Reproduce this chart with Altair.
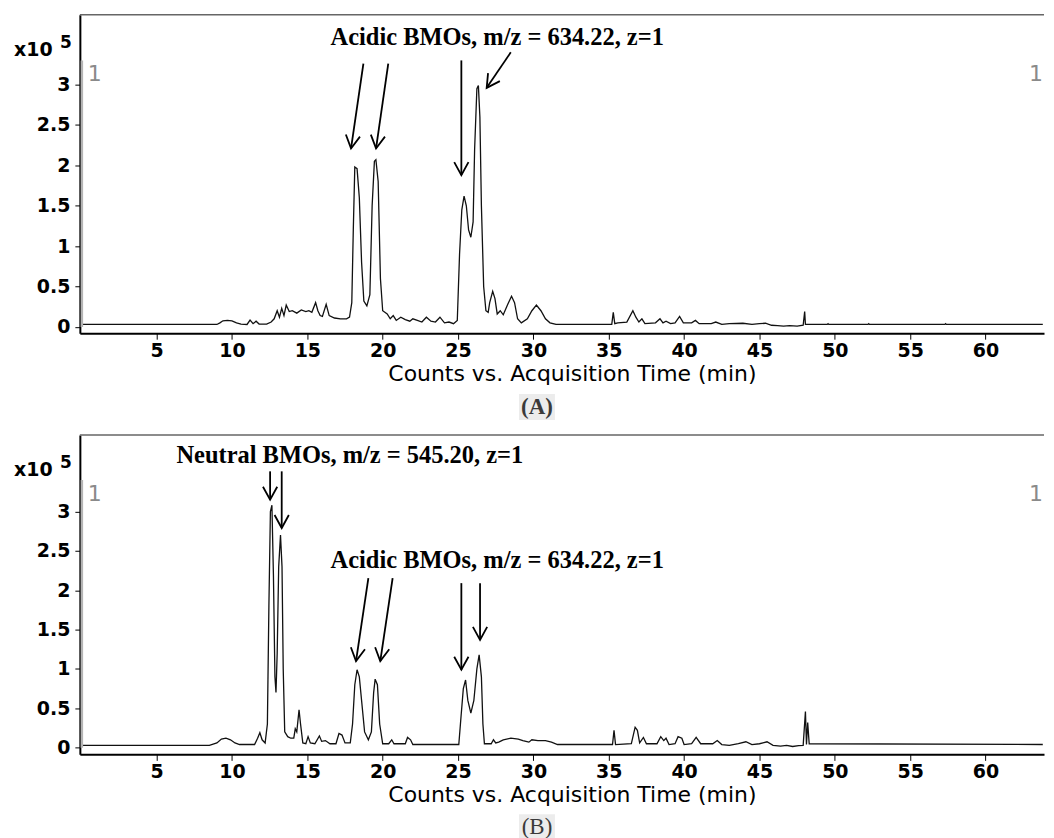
import math
import altair as alt
import pandas as pd

# ---------------- data (counts in units of 10^5) ----------------
trace_a = [
    (0.1, 0.03), (9.0, 0.03), (9.2, 0.05), (9.4, 0.075), (9.7, 0.08), (10.0, 0.075),
    (10.3, 0.05), (10.6, 0.035), (11.0, 0.03), (11.2, 0.085), (11.4, 0.04), (11.6, 0.07),
    (11.8, 0.035), (12.3, 0.035), (12.6, 0.06), (12.8, 0.1), (13.0, 0.2), (13.15, 0.12),
    (13.3, 0.23), (13.45, 0.14), (13.6, 0.27), (13.8, 0.19), (14.0, 0.2), (14.3, 0.17),
    (14.6, 0.21), (14.9, 0.19), (15.1, 0.2), (15.3, 0.18), (15.55, 0.3), (15.7, 0.2),
    (15.85, 0.14), (16.0, 0.13), (16.25, 0.28), (16.45, 0.14), (16.8, 0.11), (17.2, 0.1),
    (17.6, 0.1), (17.8, 0.12), (17.95, 0.3), (18.05, 1.2), (18.15, 1.98), (18.3, 1.96),
    (18.45, 1.6), (18.6, 0.8), (18.75, 0.32), (18.95, 0.26), (19.15, 0.4), (19.3, 1.5),
    (19.45, 2.05), (19.55, 2.07), (19.7, 1.8), (19.85, 0.6), (20.0, 0.2), (20.3, 0.16),
    (20.5, 0.1), (20.7, 0.14), (20.9, 0.08), (21.2, 0.12), (21.5, 0.09), (21.8, 0.07),
    (22.0, 0.1), (22.3, 0.08), (22.6, 0.06), (22.9, 0.12), (23.2, 0.07), (23.5, 0.06),
    (23.8, 0.12), (24.1, 0.05), (24.4, 0.06), (24.7, 0.04), (24.95, 0.08), (25.1, 0.9),
    (25.25, 1.45), (25.4, 1.62), (25.55, 1.5), (25.7, 1.2), (25.85, 1.11), (26.0, 1.3),
    (26.1, 2.2), (26.25, 2.95), (26.35, 2.99), (26.45, 2.6), (26.55, 1.5), (26.7, 0.5),
    (26.85, 0.2), (27.0, 0.18), (27.1, 0.3), (27.3, 0.44), (27.45, 0.35), (27.6, 0.16),
    (27.8, 0.2), (28.0, 0.15), (28.3, 0.28), (28.55, 0.38), (28.75, 0.3), (28.95, 0.1),
    (29.2, 0.05), (29.6, 0.1), (29.9, 0.2), (30.2, 0.27), (30.5, 0.2), (30.8, 0.1),
    (31.1, 0.05), (31.5, 0.03), (35.2, 0.03), (35.3, 0.18), (35.4, 0.04), (35.6, 0.05),
    (36.2, 0.06), (36.6, 0.2), (36.8, 0.12), (37.0, 0.06), (37.2, 0.1), (37.4, 0.04),
    (38.1, 0.05), (38.4, 0.1), (38.6, 0.05), (38.8, 0.07), (39.1, 0.04), (39.4, 0.05),
    (39.7, 0.13), (39.95, 0.05), (40.5, 0.05), (40.75, 0.08), (41.0, 0.04), (41.8, 0.04),
    (42.1, 0.06), (42.5, 0.03), (43.0, 0.04), (43.9, 0.045), (44.5, 0.03), (45.0, 0.04),
    (45.4, 0.045), (45.8, 0.02), (46.2, 0.015), (46.6, 0.01), (47.0, 0.015), (47.5, 0.01),
    (47.9, 0.02), (48.0, 0.19), (48.05, 0.03), (49.5, 0.03), (49.55, 0.04), (49.6, 0.03),
    (52.2, 0.03), (52.25, 0.04), (52.3, 0.03), (57.3, 0.03), (57.35, 0.04), (57.4, 0.03),
    (63.8, 0.03),
]

trace_b = [
    (0.1, 0.03), (8.5, 0.03), (9.0, 0.06), (9.3, 0.11), (9.6, 0.12), (9.9, 0.1),
    (10.2, 0.06), (10.5, 0.04), (11.5, 0.04), (11.7, 0.12), (11.85, 0.19), (12.0, 0.1),
    (12.2, 0.06), (12.35, 0.3), (12.45, 1.8), (12.55, 3.0), (12.65, 3.08), (12.75, 2.2),
    (12.85, 0.9), (12.92, 0.7), (13.0, 1.2), (13.1, 2.3), (13.22, 2.7), (13.32, 2.3),
    (13.4, 1.0), (13.5, 0.2), (13.7, 0.14), (13.9, 0.12), (14.1, 0.12), (14.2, 0.24),
    (14.3, 0.2), (14.45, 0.48), (14.55, 0.3), (14.7, 0.06), (14.9, 0.05), (15.05, 0.14),
    (15.2, 0.06), (15.5, 0.05), (15.8, 0.15), (15.95, 0.08), (16.2, 0.09), (16.5, 0.05),
    (16.9, 0.05), (17.1, 0.18), (17.3, 0.16), (17.5, 0.06), (17.85, 0.06), (18.0, 0.3),
    (18.15, 0.8), (18.3, 0.99), (18.45, 0.9), (18.6, 0.6), (18.8, 0.2), (19.05, 0.1),
    (19.25, 0.2), (19.4, 0.7), (19.5, 0.87), (19.65, 0.8), (19.8, 0.3), (20.0, 0.05),
    (20.4, 0.05), (20.6, 0.1), (20.75, 0.05), (21.5, 0.05), (21.65, 0.13), (21.85, 0.1),
    (22.0, 0.04), (25.05, 0.04), (25.2, 0.4), (25.35, 0.75), (25.5, 0.86), (25.65, 0.6),
    (25.85, 0.44), (26.05, 0.6), (26.25, 1.0), (26.4, 1.18), (26.55, 0.9), (26.65, 0.3),
    (26.75, 0.05), (27.2, 0.05), (27.35, 0.1), (27.5, 0.06), (27.7, 0.07), (28.0, 0.1),
    (28.5, 0.12), (29.0, 0.11), (29.3, 0.09), (29.7, 0.07), (29.9, 0.1), (30.3, 0.09),
    (30.8, 0.09), (31.2, 0.07), (31.6, 0.04), (35.25, 0.04), (35.35, 0.22), (35.45, 0.04),
    (36.5, 0.05), (36.75, 0.26), (36.9, 0.22), (37.05, 0.06), (37.3, 0.13), (37.5, 0.05),
    (38.2, 0.05), (38.45, 0.14), (38.65, 0.09), (38.8, 0.12), (39.0, 0.04), (39.4, 0.05),
    (39.6, 0.14), (39.85, 0.12), (40.0, 0.04), (40.5, 0.05), (40.8, 0.13), (41.1, 0.05),
    (41.9, 0.05), (42.2, 0.09), (42.5, 0.04), (43.0, 0.03), (43.6, 0.05), (44.1, 0.075),
    (44.5, 0.04), (45.0, 0.05), (45.5, 0.075), (45.9, 0.03), (46.4, 0.02), (46.8, 0.03),
    (47.2, 0.015), (47.6, 0.025), (47.9, 0.03), (48.05, 0.46), (48.12, 0.04), (48.2, 0.32),
    (48.3, 0.05), (63.8, 0.04),
]

x_ticks = [5, 10, 15, 20, 25, 30, 35, 40, 45, 50, 55, 60]
y_ticks = [0, 0.5, 1, 1.5, 2, 2.5, 3]

labels_a = ["Acidic BMOs, m/z = 634.22, z=1"]
label_a_t = [27.6]
label_a_y = [3.58]
arrow_a_t0 = [18.72, 20.37, 25.22, 28.5]
arrow_a_y0 = [3.26, 3.26, 3.30, 3.40]
arrow_a_t1 = [17.9, 19.56, 25.22, 26.9]
arrow_a_y1 = [2.21, 2.21, 1.88, 2.96]

labels_b = ["Neutral BMOs, m/z = 545.20, z=1", "Acidic BMOs, m/z = 634.22, z=1"]
label_b_t = [17.82, 27.6]
label_b_y = [3.70, 2.365]
arrow_b_t0 = [12.53, 13.30, 19.05, 20.66, 25.22, 26.46]
arrow_b_y0 = [3.51, 3.51, 2.155, 2.155, 2.09, 2.09]
arrow_b_t1 = [12.53, 13.30, 18.23, 19.84, 25.22, 26.46]
arrow_b_y1 = [3.15, 2.79, 1.10, 1.10, 0.99, 1.37]

marker_top = [3.30, 3.40]

W = 966
X_DOM = [-0.093, 63.88]
SANS = "DejaVu Sans"
SERIF = "Liberation Serif"


def panel(trace, ydom, H, labels, lt, ly, t0, y0, t1, y1, mtop, caption, cap_weight):
    xs = alt.Scale(domain=X_DOM, nice=False, zero=False)
    ys = alt.Scale(domain=ydom, nice=False, zero=False)
    df = pd.DataFrame(trace, columns=["t", "c"])

    line = alt.Chart(df).mark_line(color="#111111", strokeWidth=1.3).encode(
        x=alt.X("t:Q", scale=xs, axis=alt.Axis(
            values=x_ticks, format="d", grid=False,
            labelFont=SANS, labelFontSize=19, labelFontWeight="bold", labelColor="black",
            labelPadding=2, tickSize=6, tickColor="black", tickWidth=1,
            domainColor="black", domainWidth=2,
            title="Counts vs. Acquisition Time (min)", titleFont=SANS, titleFontSize=22,
            titleFontWeight="normal", titleColor="black", titleX=493, titleY=40,
            titleAlign="center", titleBaseline="middle")),
        y=alt.Y("c:Q", scale=ys, axis=alt.Axis(
            values=y_ticks, format="~g", grid=False, title=None,
            labelFont=SANS, labelFontSize=19, labelFontWeight="bold", labelColor="black",
            labelPadding=5, tickSize=5, tickColor="black", tickWidth=1,
            domainColor="black", domainWidth=2)),
    )

    one = pd.DataFrame({"k": [0]})
    top_rule = alt.Chart(one).mark_rule(color="#666666", strokeWidth=1.5).encode(
        x=alt.value(0), x2=alt.value(W), y=alt.value(0))

    mk = pd.DataFrame({"c": [mtop], "c2": [0]})
    marker = alt.Chart(mk).mark_rule(color="#b4b4b4", strokeWidth=2.5).encode(
        x=alt.value(2), y=alt.Y("c:Q", scale=ys), y2="c2:Q")

    one_l = alt.Chart(pd.DataFrame({"s": ["1"]})).mark_text(
        font=SANS, fontSize=22, color="#8a8a8a", align="left", baseline="middle"
    ).encode(text="s:N", x=alt.value(8), y=alt.value(59))
    one_r = alt.Chart(pd.DataFrame({"s": ["1"]})).mark_text(
        font=SANS, fontSize=22, color="#8a8a8a", align="right", baseline="middle"
    ).encode(text="s:N", x=alt.value(W - 1), y=alt.value(59))

    x10 = alt.Chart(pd.DataFrame({"s": ["x10"]})).mark_text(
        font=SANS, fontSize=19, fontWeight="bold", color="black", align="left", baseline="middle"
    ).encode(text="s:N", x=alt.value(-66), y=alt.value(35))
    sup = alt.Chart(pd.DataFrame({"s": ["5"]})).mark_text(
        font=SANS, fontSize=17, fontWeight="bold", color="black", align="left", baseline="middle"
    ).encode(text="s:N", x=alt.value(-20), y=alt.value(28))

    ann = alt.Chart(pd.DataFrame({"s": labels, "t": lt, "c": ly})).mark_text(
        font=SERIF, fontSize=24.5, fontWeight="bold", color="black", align="center", baseline="middle"
    ).encode(text="s:N", x=alt.X("t:Q", scale=xs), y=alt.Y("c:Q", scale=ys))

    ppm = W / (X_DOM[1] - X_DOM[0])
    ppu = H / (ydom[1] - ydom[0])
    angs = []
    for a, b, c, d in zip(t0, y0, t1, y1):
        dx = (c - a) * ppm
        dy = -(d - b) * ppu
        angs.append(math.degrees(math.atan2(-dx, dy)) % 360)
    adf = pd.DataFrame({"t": t0, "c": y0, "t1": t1, "c1": y1, "ang": angs})
    shafts = alt.Chart(adf).mark_rule(color="black", strokeWidth=1.8).encode(
        x=alt.X("t:Q", scale=xs), y=alt.Y("c:Q", scale=ys),
        x2="t1:Q", y2="c1:Q")
    heads = alt.Chart(adf).mark_point(
        shape="M-0.55,-1L0,0L0.55,-1", filled=False, size=676, strokeWidth=1.8,
        color="black", opacity=1
    ).encode(x=alt.X("t1:Q", scale=xs), y=alt.Y("c1:Q", scale=ys),
             angle=alt.Angle("ang:Q", scale=None))

    cap_bg = alt.Chart(one).mark_rect(color="#ececec").encode(
        x=alt.value(440), x2=alt.value(476), y=alt.value(380), y2=alt.value(406))
    cap = alt.Chart(pd.DataFrame({"s": [caption]})).mark_text(
        font=SERIF, fontSize=23, fontWeight=cap_weight, color="#3a3a3a",
        align="center", baseline="middle"
    ).encode(text="s:N", x=alt.value(458), y=alt.value(393))

    return alt.layer(line, top_rule, marker, one_l, one_r, x10, sup, ann, shafts, heads,
                     cap_bg, cap).properties(width=W, height=H)


top = panel(trace_a, [-0.078, 3.865], 319, labels_a, label_a_t, label_a_y,
            arrow_a_t0, arrow_a_y0, arrow_a_t1, arrow_a_y1, marker_top[0], "(A)", "bold")
bottom = panel(trace_b, [-0.085, 3.972], 320, labels_b, label_b_t, label_b_y,
               arrow_b_t0, arrow_b_y0, arrow_b_t1, arrow_b_y1, marker_top[1], "(B)", "normal")

chart = alt.vconcat(top, bottom, spacing=14).properties(
    padding={"left": 6, "top": 5, "right": 0, "bottom": 0},
    background="white",
).configure_view(stroke=None)

chart.save("out.html", embed_options={"renderer": "svg", "actions": False})
